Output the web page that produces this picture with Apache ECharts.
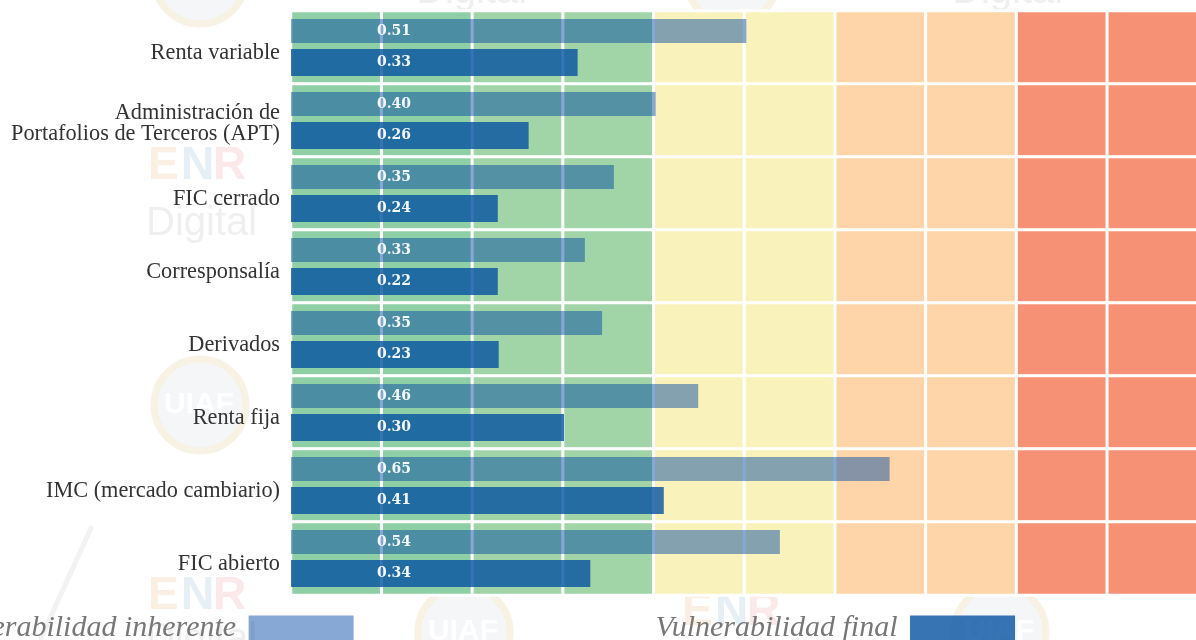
<!DOCTYPE html>
<html>
<head>
<meta charset="utf-8">
<style>html,body{margin:0;padding:0;background:#fff;overflow:hidden}</style>
<script src="https://cdn.jsdelivr.net/npm/echarts@6/dist/echarts.min.js"></script>
</head>
<body>
<div id="chart" style="width:1196px;height:640px"></div>
<script>
// top to bottom
const categories = [
  'Renta variable',
  'Administración de\nPortafolios de Terceros (APT)',
  'FIC cerrado',
  'Corresponsalía',
  'Derivados',
  'Renta fija',
  'IMC (mercado cambiario)',
  'FIC abierto'
];
// lengths (the printed labels do not match them exactly)
const inherente = [0.502, 0.402, 0.356, 0.324, 0.343, 0.449, 0.660, 0.539];
const final_ = [0.316, 0.262, 0.228, 0.228, 0.229, 0.301, 0.411, 0.330];
const inherenteLabels = ['0.51', '0.40', '0.35', '0.33', '0.35', '0.46', '0.65', '0.54'];
const finalLabels = ['0.33', '0.26', '0.24', '0.22', '0.23', '0.30', '0.41', '0.34'];
// background columns, one per 0.1 of the axis
const columns = ['0.1', '0.2', '0.3', '0.4', '0.5', '0.6', '0.7', '0.8', '0.9', '1.0'];
const columnColors = ['#8ecfa5', '#8ecfa5', '#a1d4a7', '#a1d4a7', '#f9f2bb', '#f9f2bb', '#fdd5a9', '#fdd5a9', '#f79175', '#f79175'];

const cells = [];
categories.forEach((c, r) => {
  columns.forEach((col, i) => {
    cells.push({value: [i, r, 1], itemStyle: {color: columnColors[i]}});
  });
});

// faint watermarks behind the chart
const wmText = (text, x, y, size, fill) => ({
  type: 'text', x, y, z: 0, silent: true,
  style: {text, fill, fontFamily: 'Liberation Sans', fontWeight: 'bold', fontSize: size, align: 'left', verticalAlign: 'middle'}
});
const enr = (x, y) => [
  wmText('E', x, y, 46, '#fbeee2'),
  wmText('N', x + 33, y, 46, '#e6eef6'),
  wmText('R', x + 65, y, 46, '#fbe8e8')
];
const logo = (cx, cy) => [
  {type: 'circle', z: 0, silent: true, shape: {cx, cy, r: 46}, style: {fill: '#f5f6f8', stroke: '#f7f2e3', lineWidth: 7}},
  wmText('UIAF', cx - 36, cy, 30, '#ffffff')
];
const digital = (x, y) => ({
  type: 'text', x, y, z: 0, silent: true,
  style: {text: 'Digital', fill: '#efefef', fontFamily: 'Liberation Sans', fontSize: 40, align: 'left', verticalAlign: 'middle'}
});
const watermarks = [
  ...logo(200, -22), ...logo(732, -22), ...logo(200, 405), ...logo(464, 632), ...logo(1000, 632),
  digital(416, -8), digital(952, -8), digital(146, 224), digital(146, 640),
  ...enr(148, 166), ...enr(148, 596), ...enr(682, 612),
  {type: 'line', z: 0, silent: true, shape: {x1: 92, y1: 526, x2: 40, y2: 640}, style: {stroke: '#f2f2f2', lineWidth: 5}}
];

const chart = echarts.init(document.getElementById('chart'));

const barLabel = labels => ({
  show: true,
  position: 'insideLeft',
  distance: 86,
  color: '#f4f8fb',
  fontFamily: 'DejaVu Serif',
  fontWeight: 'bold',
  fontSize: 14,
  formatter: p => labels[p.dataIndex]
});

const labelFont = {color: '#333', fontFamily: 'Liberation Serif', fontSize: 22.3};

chart.setOption({
  animation: false,
  backgroundColor: '#fff',
  graphic: {elements: watermarks},
  grid: {left: 291, top: 11, width: 907, height: 584, outerBoundsMode: 'none'},
  xAxis: [
    {type: 'value', min: 0, max: 1, show: false},
    {type: 'category', data: columns, show: false}
  ],
  yAxis: {
    type: 'category',
    inverse: true,
    data: categories,
    axisLine: {show: false},
    axisTick: {show: false},
    splitLine: {show: false},
    axisLabel: {
      margin: 11,
      // labels sit a little below the band centre, hence the uneven line heights
      formatter: v => {
        const lines = v.split('\n');
        if (lines.length === 1) return '{a|' + v + '}';
        return '{c|' + lines[0] + '}\n{b|' + lines[1] + '}';
      },
      rich: {
        a: {...labelFont, lineHeight: 22, padding: [12, 0, 0, 0]},
        c: {...labelFont, lineHeight: 28},
        b: {...labelFont, lineHeight: 14}
      }
    }
  },
  legend: {
    left: -68,
    top: 608,
    align: 'right',
    itemWidth: 105,
    itemHeight: 25,
    itemGap: 302,
    selectedMode: false,
    icon: 'rect',
    formatter: name => name + '\u00a0',
    textStyle: {
      fontFamily: 'Liberation Serif',
      fontStyle: 'italic',
      fontSize: 30,
      color: '#777'
    },
    data: ['Vulnerabilidad inherente', 'Vulnerabilidad final']
  },
  series: [
    {
      type: 'heatmap',
      xAxisIndex: 1,
      data: cells,
      silent: true,
      z: 1,
      itemStyle: {borderColor: '#fff', borderWidth: 3}
    },
    {
      name: 'Vulnerabilidad inherente',
      type: 'bar',
      xAxisIndex: 0,
      data: inherente,
      barWidth: 24,
      barGap: '25%',
      z: 2,
      itemStyle: {color: 'rgba(0,70,163,0.47)'},
      label: barLabel(inherenteLabels)
    },
    {
      name: 'Vulnerabilidad final',
      type: 'bar',
      xAxisIndex: 0,
      data: final_,
      barWidth: 27,
      z: 3,
      itemStyle: {color: 'rgba(5,81,161,0.8)'},
      label: barLabel(finalLabels)
    }
  ]
});
</script>
</body>
</html>
